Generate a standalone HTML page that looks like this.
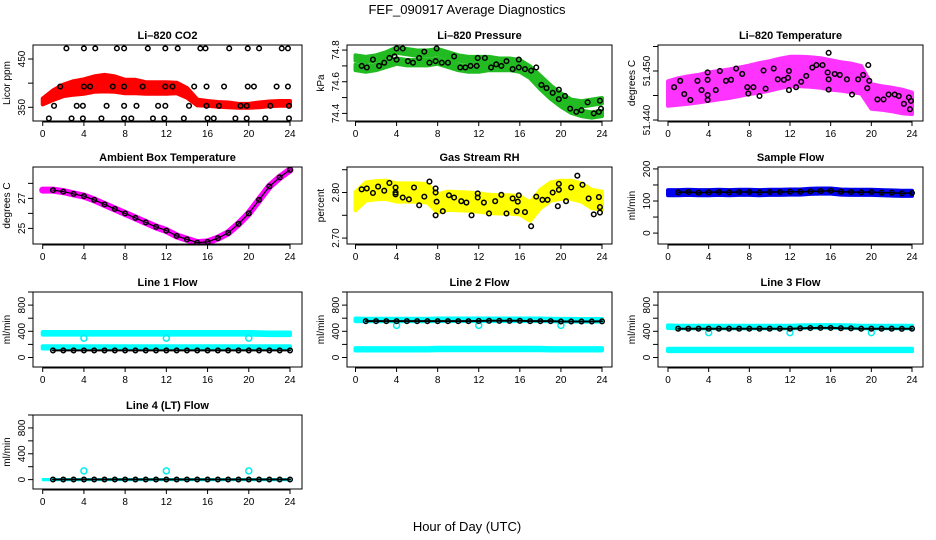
<!DOCTYPE html>
<html><head><meta charset="utf-8">
<style>
html,body{margin:0;padding:0;background:#fff}
svg{display:block;font-family:"Liberation Sans",Arial,sans-serif}
</style></head>
<body>
<svg id="chart" width="936" height="540" viewBox="0 0 936 540" xmlns="http://www.w3.org/2000/svg">
<rect width="936" height="540" fill="#fff"/>
<text x="467" y="14" text-anchor="middle" font-size="13">FEF_090917  Average Diagnostics</text>
<text x="467" y="531" text-anchor="middle" font-size="13">Hour of Day (UTC)</text>
</svg>
<script>
const hours = [0,1,2,3,4,5,6,7,8,9,10,11,12,13,14,15,16,17,18,19,20,21,22,23,24];
const xTicks = [0,4,8,12,16,20,24];

// CO2
const co2Center = [362,375,385,390,393,398,400,398,393,393,390,390,390,390,380,360,358,356,355,353,353,355,357,358,358];
const co2Spread = [6,10,12,14,15,16,17,16,14,14,12,12,12,11,10,6,5,5,5,4,4,5,5,5,5];
const co2BlackH = [2.3,4.0,5.1,7.2,7.9,10.2,11.9,13.1,15.3,15.8,18.1,19.9,21.0,23.2,23.8,1.7,4.0,4.6,6.8,7.9,9.7,11.9,12.6,14.7,15.9,17.6,19.9,20.5,22.7,23.8,1.1,3.3,3.9,6.2,7.9,9.1,11.2,11.9,14.2,15.9,17.1,19.2,19.8,22.1,23.9,0.6,2.8,3.9,5.7,7.9,8.6,10.7,11.8,13.7,16.0,16.6,18.7,19.8,21.6,23.9];
const co2BlackV = [472,472,472,472,472,472,472,472,472,472,472,472,472,472,472,393,393,393,393,393,393,393,393,393,393,393,393,393,393,393,353,353,353,353,353,353,353,353,353,353,353,353,353,353,353,327,327,327,327,327,327,327,327,327,327,327,327,327,327,327];

// Pressure
const presUpper = [74.75,74.74,74.75,74.77,74.80,74.79,74.78,74.78,74.79,74.77,74.75,74.74,74.74,74.74,74.73,74.73,74.72,74.68,74.62,74.56,74.51,74.47,74.46,74.47,74.48];
const presLower = [74.69,74.68,74.69,74.71,74.73,74.72,74.72,74.72,74.73,74.71,74.69,74.68,74.68,74.69,74.69,74.69,74.68,74.64,74.57,74.51,74.46,74.42,74.40,74.39,74.40];
const presBlackH = [0.6,1.1,1.7,2.3,2.8,3.3,3.8,4.0,4.0,4.6,5.1,5.6,6.2,6.7,7.2,7.8,7.9,8.4,9.0,9.6,10.2,10.7,11.2,11.8,11.9,12.6,13.2,13.7,14.2,14.7,15.3,15.9,15.9,16.5,17.1,17.6,18.1,18.6,19.2,19.8,19.8,20.4,20.9,21.5,22.0,22.6,23.2,23.7,23.8,23.9];
const presBlackV = [74.70,74.69,74.74,74.70,74.72,74.75,74.76,74.81,74.74,74.81,74.73,74.72,74.75,74.79,74.72,74.73,74.81,74.72,74.72,74.76,74.69,74.69,74.70,74.70,74.75,74.75,74.69,74.71,74.70,74.73,74.68,74.69,74.74,74.68,74.67,74.69,74.58,74.56,74.53,74.55,74.49,74.51,74.43,74.41,74.42,74.47,74.40,74.41,74.48,74.43];

// Li-820 temperature
const tempCenter = [51.4454,51.4458,51.4461,51.4464,51.4468,51.4471,51.4474,51.4478,51.4482,51.4486,51.4490,51.4495,51.4499,51.4499,51.4498,51.4496,51.4492,51.4489,51.4486,51.4482,51.4448,51.4445,51.4442,51.4438,51.4434];
const tempSpread = [0.0025,0.0027,0.0028,0.0028,0.0029,0.0029,0.0029,0.0029,0.0029,0.0030,0.0030,0.0030,0.0030,0.0030,0.0030,0.0030,0.0030,0.0029,0.0029,0.0028,0.0025,0.0024,0.0024,0.0024,0.0022];
const tempBlackH = [0.6,1.2,1.6,2.2,2.9,3.3,3.9,3.9,3.9,3.9,4.7,5.1,5.7,6.2,6.7,7.3,7.8,7.9,8.4,9.0,9.4,9.6,10.4,10.8,11.4,11.8,11.9,11.9,12.6,13.1,13.6,14.2,14.6,15.2,15.8,15.8,15.8,15.7,16.4,16.9,17.6,18.1,18.7,19.2,19.7,19.6,19.8,20.6,21.2,21.7,22.3,22.7,23.2,23.7,23.8,23.9];
const tempBlackV = [51.4467,51.4480,51.4453,51.4441,51.4480,51.4461,51.4497,51.4482,51.4451,51.4441,51.4461,51.4500,51.4480,51.4482,51.4505,51.4494,51.4467,51.4454,51.4467,51.4449,51.4501,51.4464,51.4505,51.4483,51.4482,51.4486,51.4461,51.4500,51.4467,51.4478,51.4490,51.4507,51.4512,51.4512,51.4537,51.4483,51.4462,51.4497,51.4494,51.4492,51.4483,51.4452,51.4483,51.4492,51.4512,51.4465,51.4480,51.4442,51.4442,51.4452,51.4452,51.4449,51.4433,51.4446,51.4422,51.4439];

// Ambient box temperature
const ambCenter = [27.55,27.55,27.45,27.3,27.15,26.9,26.6,26.3,26.0,25.7,25.4,25.1,24.85,24.5,24.27,24.05,24.1,24.35,24.7,25.3,26.0,26.9,27.8,28.4,28.9];

// Gas stream RH
const rhCenter = [2.781,2.802,2.805,2.806,2.800,2.800,2.800,2.798,2.776,2.782,2.781,2.780,2.778,2.775,2.774,2.774,2.772,2.758,2.786,2.802,2.806,2.806,2.800,2.786,2.782];
const rhBlackH = [0.6,1.1,1.7,2.2,2.8,3.3,3.9,3.9,3.9,4.6,5.2,5.7,6.2,6.7,7.2,7.8,7.8,7.9,7.8,8.5,9.1,9.6,10.3,10.8,11.3,11.9,11.9,12.5,13.0,13.6,14.2,14.7,15.3,15.8,15.9,15.7,16.5,17.1,17.6,18.2,18.7,19.2,19.8,19.8,19.7,20.5,21.0,21.6,22.1,22.7,23.2,23.7,23.8,23.8];
const rhBlackV = [2.807,2.809,2.799,2.813,2.804,2.821,2.811,2.800,2.796,2.789,2.785,2.811,2.772,2.791,2.824,2.809,2.800,2.780,2.750,2.759,2.794,2.789,2.781,2.778,2.750,2.798,2.789,2.778,2.754,2.781,2.795,2.754,2.787,2.780,2.794,2.759,2.757,2.726,2.791,2.784,2.784,2.800,2.819,2.806,2.770,2.781,2.811,2.837,2.817,2.787,2.752,2.790,2.768,2.756];

// Sample flow
const sampleBlue = [126,126,127,126,126,127,126,127,127,126,127,127,128,128,130,131,131,128,127,127,127,126,125,124,124];
const sampleBlack = [126,127,128,126,127,128,127,128,128,127,128,128,129,129,130,131,132,129,128,127,128,126,126,124,125];

// Line flows
const l1Upper = [370,370,370,370,370,370,370,370,370,370,370,370,370,370,370,370,370,370,370,370,370,365,362,362,362];
const l1Lower = [155,155,155,155,155,155,155,155,155,155,155,155,155,155,155,155,155,155,155,155,155,155,155,155,155];
const l1Black = [108,108,108,108,108,108,108,108,108,108,108,108,108,108,108,108,108,108,108,108,108,108,108,108,108];
const l1DipH = [4,12,20];
const l1DipV = [295,295,295];

const l2Upper = [575,572,572,572,572,572,572,572,575,575,575,575,575,575,575,575,575,575,575,572,570,570,568,568,568];
const l2Lower = [125,125,125,125,125,125,125,125,130,130,130,130,130,130,130,130,130,130,128,125,125,125,125,125,125];
const l2Black = [555,555,555,555,555,555,555,555,555,555,555,555,558,560,560,560,560,555,555,555,550,550,550,550,552];
const l2DipH = [4,12,20];
const l2DipV = [490,490,490];

const l3Upper = [470,465,465,465,465,465,465,465,465,465,465,465,465,470,472,475,475,472,470,465,465,465,465,465,465];
const l3Lower = [115,115,115,115,115,115,115,115,115,115,115,115,115,115,115,115,115,115,115,115,115,115,115,115,115];
const l3Black = [440,440,440,440,440,440,440,440,440,440,440,440,440,445,450,452,452,448,445,440,440,440,440,438,440];
const l3DipH = [4,12,20];
const l3DipV = [380,380,380];

const l4Cyan = [0,0,0,0,0,0,0,0,0,0,0,0,0,0,0,0,0,0,0,0,0,0,0,0,0];
const l4Black = [2,2,2,2,2,2,2,2,2,2,2,2,2,2,2,2,2,2,2,2,2,2,2,2,2];
const l4SpotH = [4,12,20];
const l4SpotV = [135,135,135];

const NS = 'http://www.w3.org/2000/svg';
const svg = document.getElementById('chart');
const colBox = [[33,302,42.7,290],[347,612,355.5,602],[658,923,668,912]];
const rowBox = [[45,121],[167,244],[292,367],[415,489]];

function mk(tag, attrs, parent){
  const e = document.createElementNS(NS, tag);
  for (const k in attrs) e.setAttribute(k, attrs[k]);
  (parent||svg).appendChild(e);
  return e;
}

function panel(name, col, row, title, ylab, yMin, yMax, yticks, ylabels){
  const [bx0,bx1,x0,x24] = colBox[col];
  const [by0,by1] = rowBox[row];
  const g = mk('g', {});
  
  
  const sx = h => x0 + (x24 - x0) * h / 24;
  const sy = v => by1 - (v - yMin) / (yMax - yMin) * (by1 - by0);
  const clipId = 'clip-' + name;
  const cp = mk('clipPath', {id: clipId}, g);
  mk('rect', {x: bx0, y: by0, width: bx1 - bx0, height: by1 - by0}, cp);
  const plot = mk('g', {'clip-path': 'url(#' + clipId + ')'}, g);
  
  
  const t = mk('text', {x: (bx0 + bx1) / 2, y: by0 - 6, 'text-anchor': 'middle', 'font-size': 11, 'font-weight': 'bold'}, g);
  t.textContent = title;
  
  
  const yl = mk('text', {x: bx0 - 23, y: (by0 + by1) / 2, 'text-anchor': 'middle', 'font-size': 10, transform: 'rotate(-90 ' + (bx0 - 23) + ' ' + ((by0 + by1) / 2) + ')'}, g);
  yl.textContent = ylab;
  
  
  const xa = mk('g', {}, g);
  
  
  mk('line', {x1: sx(0), x2: sx(24), y1: by1 + 1, y2: by1 + 1, stroke: '#000'}, xa);
  xTicks.forEach(v => {
    mk('line', {x1: sx(v), x2: sx(v), y1: by1, y2: by1 + 5, stroke: '#000'}, xa);
    const tl = mk('text', {x: sx(v), y: by1 + 16, 'text-anchor': 'middle', 'font-size': 10}, xa);
    tl.textContent = v;
    
    
  });
  const ya = mk('g', {}, g);
  
  
  mk('line', {x1: bx0, x2: bx0, y1: sy(yticks[0]), y2: sy(yticks[yticks.length - 1]), stroke: '#000'}, ya);
  yticks.forEach(v => mk('line', {x1: bx0 - 5, x2: bx0, y1: sy(v), y2: sy(v), stroke: '#000'}, ya));
  ylabels.forEach(lb => {
    const v = parseFloat(lb);
    const yy = sy(v);
    const tl = mk('text', {x: bx0 - 8, y: yy, 'text-anchor': 'middle', 'font-size': 10, transform: 'rotate(-90 ' + (bx0 - 8) + ' ' + yy + ')'}, ya);
    tl.textContent = lb;
    
    
  });
  mk('rect', {x: bx0, y: by0, width: bx1 - bx0, height: by1 - by0, fill: 'none', stroke: '#000'}, g);
  return {plot, sx, sy};
}

function band(p, xs, lo, hi, color, nm, sw){
  let d = xs.map((h, i) => (i ? 'L' : 'M') + p.sx(h).toFixed(1) + ' ' + p.sy(hi[i]).toFixed(1)).join(' ');
  for (let i = xs.length - 1; i >= 0; i--) d += ' L' + p.sx(xs[i]).toFixed(1) + ' ' + p.sy(lo[i]).toFixed(1);
  const e = mk('path', {d: d + ' Z', fill: color, stroke: color, 'stroke-width': sw === undefined ? 4 : sw, 'stroke-linejoin': 'round'}, p.plot);
  
  
}
function line(p, xs, ys, color, w, nm){
  const d = xs.map((h, i) => (i ? 'L' : 'M') + p.sx(h).toFixed(1) + ' ' + p.sy(ys[i]).toFixed(1)).join(' ');
  const e = mk('path', {d, fill: 'none', stroke: color, 'stroke-width': w, 'stroke-linecap': 'round', 'stroke-linejoin': 'round'}, p.plot);
  
  
}
function pts(p, xs, ys, color, nm, r){
  xs.forEach((h, i) => {
    const c = mk('circle', {cx: p.sx(h), cy: p.sy(ys[i]), r: r || 2.3, fill: 'none', stroke: color, 'stroke-width': 1.5}, p.plot);
    
    
  });
}
const addS = (a, s) => a.map((v, i) => v + (Array.isArray(s) ? s[i] : s));
const subS = (a, s) => a.map((v, i) => v - (Array.isArray(s) ? s[i] : s));

let p = panel('co2', 0, 0, 'Li\u2013820 CO2', 'Licor ppm', 321.6, 479, [350,400,450], ['350','450']);
band(p, hours, subS(co2Center, co2Spread), addS(co2Center, co2Spread), '#ff0000', 'co2-red-band');
pts(p, co2BlackH, co2BlackV, '#000', 'co2-average-point');

p = panel('pressure', 1, 0, 'Li\u2013820 Pressure', 'kPa', 74.352, 74.832, [74.4,74.5,74.6,74.7,74.8], ['74.4','74.6','74.8']);
band(p, hours, subS(presUpper, 0.017), addS(presUpper, 0.017), '#22bb22', 'pressure-upper-band');
band(p, hours, subS(presLower, 0.017), addS(presLower, 0.017), '#22bb22', 'pressure-lower-band');
pts(p, presBlackH, presBlackV, '#000', 'pressure-average-point');

p = panel('li820-temp', 2, 0, 'Li\u2013820 Temperature', 'degrees C', 51.4398, 51.4553, [51.440,51.445,51.450,51.455], ['51.440','51.450']);
band(p, hours, subS(tempCenter, tempSpread), addS(tempCenter, tempSpread), '#ff33ff', 'temp-magenta-cloud');
pts(p, tempBlackH, tempBlackV, '#000', 'temp-average-point');

p = panel('ambient', 0, 1, 'Ambient Box Temperature', 'degrees C', 23.96, 29.09, [25,26,27,28], ['25','27']);
line(p, hours, ambCenter, '#ff00ff', 7, 'ambient-magenta-line');
line(p, hours.slice(1), ambCenter.slice(1), '#000', 1.2, 'ambient-average-line');
pts(p, hours.slice(1), ambCenter.slice(1), '#000', 'ambient-average-point');

p = panel('rh', 1, 1, 'Gas Stream RH', 'percent', 2.687, 2.856, [2.70,2.75,2.80,2.85], ['2.70','2.80']);
band(p, hours, subS(rhCenter, 0.02), addS(rhCenter, 0.02), '#ffff00', 'rh-yellow-cloud');
pts(p, rhBlackH, rhBlackV, '#000', 'rh-average-point');

p = panel('sample-flow', 2, 1, 'Sample Flow', 'ml/min', -34, 206, [0,50,100,150,200], ['0','100','200']);
band(p, hours, subS(sampleBlue, 8), addS(sampleBlue, 8), '#0000ee', 'sample-blue-band');
line(p, hours.slice(1), sampleBlack.slice(1), '#000', 1.5, 'sample-average-line');
pts(p, hours.slice(1), sampleBlack.slice(1), '#000', 'sample-average-point');

const flowTicks = [0,200,400,600,800,1000];
const flowLabels = ['0','400','800'];
function flowPanel(name, col, row, title, ylab, up, lo, blk, dh, dv, loHalf){
  const q = panel(name, col, row, title, ylab, -145, 1000, flowTicks, flowLabels);
  if (up) band(q, hours, subS(up, 20), addS(up, 20), '#00ffff', name + '-cyan-upper');
  band(q, hours, subS(lo, loHalf), addS(lo, loHalf), '#00ffff', name + '-cyan-lower', loHalf < 15 ? 2 : 4);
  if (dh) pts(q, dh, dv, '#00eeee', name + '-cyan-dip', 3);
  line(q, hours.slice(1), blk.slice(1), '#000', 2, name + '-average-line');
  pts(q, hours.slice(1), blk.slice(1), '#000', name + '-average-point');
  return q;
}
flowPanel('line1-flow', 0, 2, 'Line 1 Flow', 'ml/min', l1Upper, l1Lower, l1Black, l1DipH, l1DipV, 18);
flowPanel('line2-flow', 1, 2, 'Line 2 Flow', 'ml/min', l2Upper, l2Lower, l2Black, l2DipH, l2DipV, 18);
flowPanel('line3-flow', 2, 2, 'Line 3 Flow', 'ml/min', l3Upper, l3Lower, l3Black, l3DipH, l3DipV, 18);
flowPanel('line4-flow', 0, 3, 'Line 4 (LT) Flow', 'ml/min', null, l4Cyan, l4Black, l4SpotH, l4SpotV, 10);
</script>
</body></html>
